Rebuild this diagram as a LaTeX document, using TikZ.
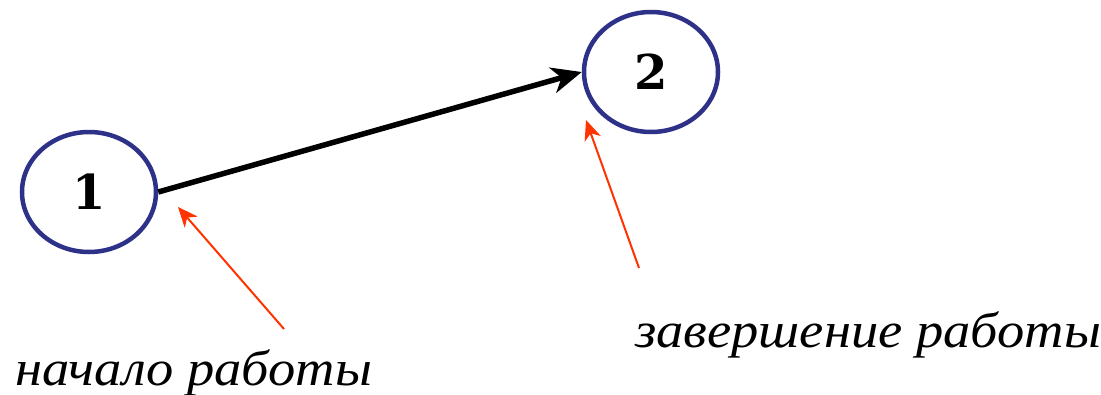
\documentclass[tikz,border=0pt]{standalone}
\usepackage{fontspec}
\setmainfont{DejaVu Serif}
\newfontfamily\captionfont[FakeStretch=1.09]{Liberation Serif}
\usetikzlibrary{shapes.geometric,arrows.meta}
\definecolor{eventblue}{HTML}{2E3188}
\definecolor{pointred}{HTML}{FF3300}
\tikzset{
  event/.style={ellipse, draw=eventblue, line width=4.5pt, inner sep=0pt,
    minimum width=134pt, minimum height=120pt,
    font=\fontsize{48}{48}\selectfont\bfseries},
  work/.style={line width=5.5pt, -{Stealth[length=30pt,width=26pt,inset=9pt]}},
  pointer/.style={draw=pointred, line width=2pt,
    -{Stealth[length=20pt,width=17pt,inset=6pt]}},
  caption/.style={anchor=base west, inner sep=0pt,
    font=\captionfont\fontsize{50}{50}\selectfont\itshape}
}
\begin{document}
\begin{tikzpicture}[x=1pt,y=-1pt]
  \useasboundingbox (0,0) rectangle (1101,394);
  % events
  \node[event] (e1) at (89,192) {1};
  \node[event] (e2) at (651,72) {2};
  % the work itself
  \draw[work] (e1.east) -- (e2.west);
  % captions
  \node[caption] (start) at (15,385) {начало работы};
  \node[caption] (finish) at (635,347) {завершение работы};
  % pointers from captions to events
  \coordinate (p1tail) at (284,329);
  \coordinate (p1tip) at (178,207);
  \coordinate (p2tail) at (639,268);
  \coordinate (p2tip) at (586,120);
  \draw[pointer] (p1tail) -- (p1tip);
  \draw[pointer] (p2tail) -- (p2tip);
\end{tikzpicture}
\end{document}
